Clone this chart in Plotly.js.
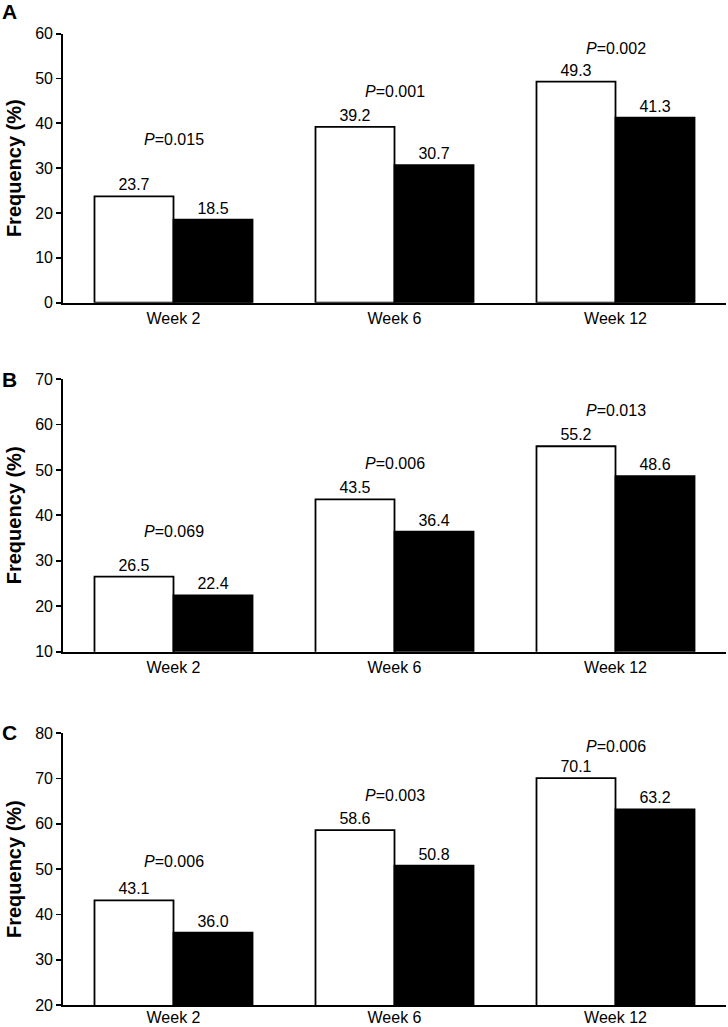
<!DOCTYPE html>
<html>
<head>
<meta charset="utf-8">
<script src="https://cdn.plot.ly/plotly-3.0.1.min.js"></script>
<style>html,body{margin:0;padding:0;background:#fff;}#chart{width:728px;height:1027px;}</style>
</head>
<body>
<div id="chart"></div>
<script>
// ---- data ----
const weeks = ["Week 2", "Week 6", "Week 12"];
const panelLetters = ["A", "B", "C"];
const whiteA = [23.7, 39.2, 49.3];
const blackA = [18.5, 30.7, 41.3];
const pA = ["0.015", "0.001", "0.002"];
const whiteB = [26.5, 43.5, 55.2];
const blackB = [22.4, 36.4, 48.6];
const pB = ["0.069", "0.006", "0.013"];
const whiteC = [43.1, 58.6, 70.1];
const blackC = [36.0, 50.8, 63.2];
const pC = ["0.006", "0.003", "0.006"];
const yRanges = [[0, 60], [10, 70], [20, 80]];
const yTitle = "Frequency (%)";

// ---- layout / style ----
const H = 1027;
const FONT = "Liberation Sans, Arial, sans-serif";
const panels = [
  {white: whiteA, black: blackA, p: pA, top: 33.7, bottom: 302.7, letterY: 11.5, labelOff: 0, pShift: [57, 35, 33]},
  {white: whiteB, black: blackB, p: pB, top: 379, bottom: 651.7, letterY: 380, labelOff: 0, pShift: [45, 36, 36]},
  {white: whiteC, black: blackC, p: pC, top: 733.3, bottom: 1005, letterY: 732.5, labelOff: -3, pShift: [39, 35, 32]}
];

const traces = [];
const layout = {
  width: 728, height: H,
  margin: {l: 63, r: 2, t: 0, b: 0},
  paper_bgcolor: "#fff", plot_bgcolor: "#fff",
  font: {family: FONT, size: 16, color: "#000"},
  showlegend: false,
  barmode: "group",
  bargap: 0.285,
  bargroupgap: 0,
  annotations: []
};

panels.forEach((pn, i) => {
  const sfx = i === 0 ? "" : String(i + 1);
  const xa = "x" + sfx, ya = "y" + sfx;
  const common = {
    type: "bar", x: weeks, xaxis: xa, yaxis: ya,
    texttemplate: "%{y:.1f}", textposition: "outside",
    textfont: {size: 16, color: "#000", family: FONT},
    cliponaxis: false, hoverinfo: "skip"
  };
  traces.push(Object.assign({}, common, {
    y: pn.white, marker: {color: "#fff", line: {color: "#000", width: 1.8}}
  }));
  traces.push(Object.assign({}, common, {
    y: pn.black, marker: {color: "#000", line: {color: "#000", width: 1.8}}
  }));

  layout["xaxis" + sfx] = {
    anchor: ya, domain: [0, 1], type: "category",
    range: [-0.5, 2.5], showline: true, linecolor: "#000", linewidth: 1.8,
    ticks: "", showgrid: false, zeroline: false, ticklabelstandoff: pn.labelOff,
    tickfont: {size: 16, family: FONT, color: "#000"}, fixedrange: true
  };
  layout["yaxis" + sfx] = {
    anchor: xa,
    domain: [1 - pn.bottom / H, 1 - pn.top / H],
    range: yRanges[i], dtick: 10, tick0: 0,
    showline: true, linecolor: "#000", linewidth: 1.8,
    ticks: "outside", ticklen: 5, tickwidth: 1.8, tickcolor: "#000",
    showgrid: false, zeroline: false,
    tickfont: {size: 16, family: FONT, color: "#000"},
    title: {text: yTitle, font: {size: 20, family: FONT, color: "#000", weight: "bold"}, standoff: 8},
    fixedrange: true
  };

  // panel letter
  layout.annotations.push({
    xref: "paper", yref: "paper", x: -63 / 663, xanchor: "left",
    y: 1 - pn.letterY / H, yanchor: "middle",
    text: "<b>" + panelLetters[i] + "</b>", showarrow: false,
    font: {size: 21, family: FONT, color: "#000"}
  });

  // P-value annotations
  weeks.forEach((w, j) => {
    layout.annotations.push({
      xref: xa, yref: ya, x: w, y: pn.white[j], yshift: pn.pShift[j],
      yanchor: "middle", xanchor: "center",
      text: "<i>P</i>=" + pn.p[j], showarrow: false,
      font: {size: 16, family: FONT, color: "#000"}
    });
  });
});

Plotly.newPlot("chart", traces, layout, {staticPlot: true, displayModeBar: false});
</script>
</body>
</html>
